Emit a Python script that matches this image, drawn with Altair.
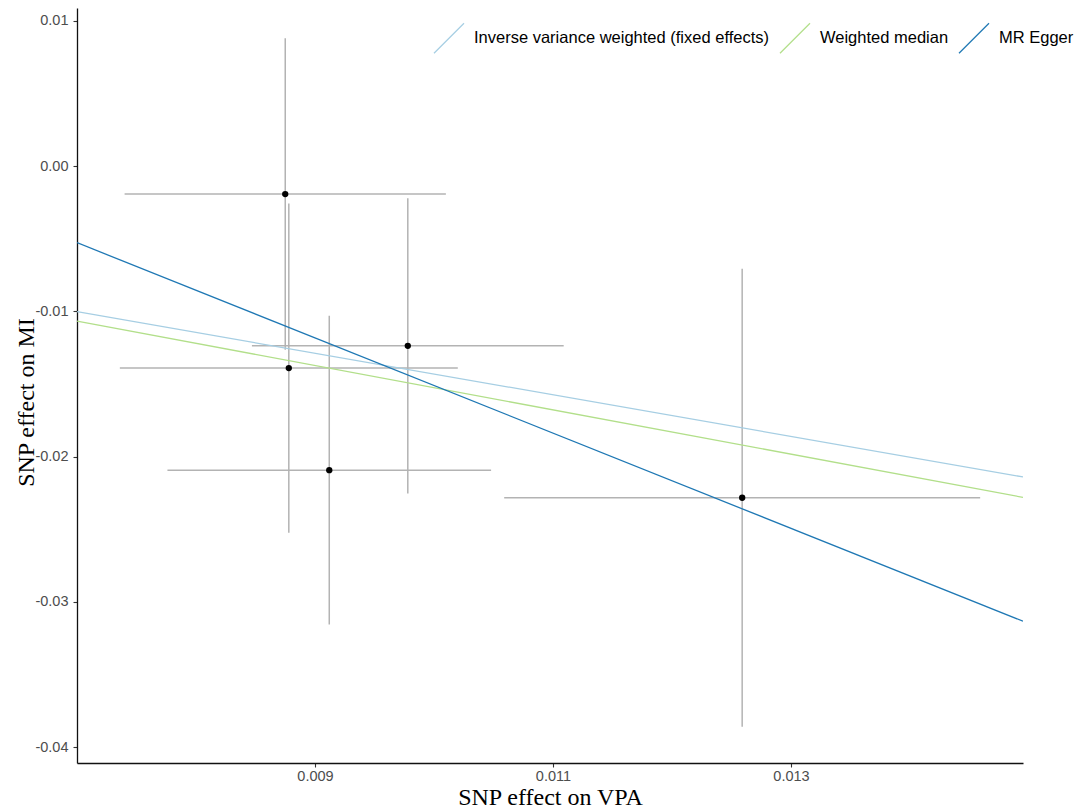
import altair as alt
import pandas as pd

# SNP-level estimates
snp_x = [0.00875, 0.00878, 0.00978, 0.00912, 0.01259]      # SNP effect on VPA
snp_y = [-0.00193, -0.01391, -0.01238, -0.02094, -0.02284]  # SNP effect on MI
se_x = [0.00135, 0.00142, 0.00131, 0.00136, 0.00200]
se_y = [0.01072, 0.01133, 0.01017, 0.01063, 0.01577]

# MR method fits
methods = ["Inverse variance weighted (fixed effects)", "Weighted median", "MR Egger"]
slopes = [-1.432, -1.526, -3.278]
intercepts = [0.0, 0.0, 0.01767]
colors = ["#a6cee3", "#b2df8a", "#1f78b4"]

x_ticks = [0.009, 0.011, 0.013]
y_ticks = [0.01, 0.0, -0.01, -0.02, -0.03, -0.04]
x_domain = [0.007, 0.01495]
y_domain = [-0.0411, 0.01088]

pts = pd.DataFrame({"bx": snp_x, "by": snp_y, "sx": se_x, "sy": se_y})
pts["xlo"] = pts["bx"] - pts["sx"]
pts["xhi"] = pts["bx"] + pts["sx"]
pts["ylo"] = pts["by"] - pts["sy"]
pts["yhi"] = pts["by"] + pts["sy"]

rows = []
for m, s, b in zip(methods, slopes, intercepts):
    for xv in x_domain:
        rows.append({"method": m, "lx": xv, "ly": b + s * xv})
lines = pd.DataFrame(rows)

xs = alt.Scale(domain=x_domain, nice=False, zero=False)
ys = alt.Scale(domain=y_domain, nice=False, zero=False)

xaxis = alt.Axis(values=x_ticks, format=".3f", title="SNP effect on VPA", grid=False,
                 titleY=41, titleBaseline="alphabetic", labelPadding=2)
yaxis = alt.Axis(values=y_ticks,
                 labelExpr="replace(format(datum.value, '.2f'), '\u2212', '-')",
                 title="SNP effect on MI", grid=False,
                 titleX=-44, titleY=394, titleBaseline="alphabetic", labelPadding=5)

base = alt.Chart(pts)

vbars = base.mark_rule(color="#b3b3b3", strokeWidth=1.5).encode(
    x=alt.X("bx:Q", scale=xs, axis=xaxis),
    y=alt.Y("ylo:Q", scale=ys, axis=yaxis),
    y2="yhi:Q",
)
hbars = base.mark_rule(color="#b3b3b3", strokeWidth=1.5).encode(
    x=alt.X("xlo:Q", scale=xs, axis=xaxis),
    x2="xhi:Q",
    y=alt.Y("by:Q", scale=ys, axis=yaxis),
)
points = base.mark_circle(color="black", size=40, opacity=1).encode(
    x=alt.X("bx:Q", scale=xs, axis=xaxis),
    y=alt.Y("by:Q", scale=ys, axis=yaxis),
)
fits = alt.Chart(lines).mark_line(clip=True, strokeWidth=1.3).encode(
    x=alt.X("lx:Q", scale=xs, axis=xaxis),
    y=alt.Y("ly:Q", scale=ys, axis=yaxis),
    detail="method:N",
    color=alt.Color(
        "method:N",
        scale=alt.Scale(domain=methods, range=colors),
        sort=methods,
        legend=alt.Legend(
            orient="none", legendX=356, legendY=14, direction="horizontal",
            title=None, symbolType="M-1,1L1,-1", symbolSize=900,
            symbolStrokeWidth=1.3, labelFont="Liberation Sans", labelFontSize=16.5,
            labelColor="black", labelOffset=9, columnPadding=7, padding=0,
            labelLimit=600,
        ),
    ),
)

chart = alt.layer(vbars, hbars, points, fits).properties(
    width=946, height=755,
    autosize=alt.AutoSizeParams(type="none"),
    padding={"left": 69, "top": 0, "right": 53, "bottom": 47},
    background="white",
).configure_view(strokeWidth=0).configure_axis(
    domainColor="#111111", domainWidth=1.3,
    tickColor="#333333", tickSize=4, tickWidth=1.1,
    labelFont="Liberation Sans", labelFontSize=14.5, labelColor="#4d4d4d",
    titleFont="Liberation Serif", titleFontSize=24, titleFontWeight="normal",
    titleColor="black",
)

chart.save("out.html", embed_options={"renderer": "svg", "actions": False})
